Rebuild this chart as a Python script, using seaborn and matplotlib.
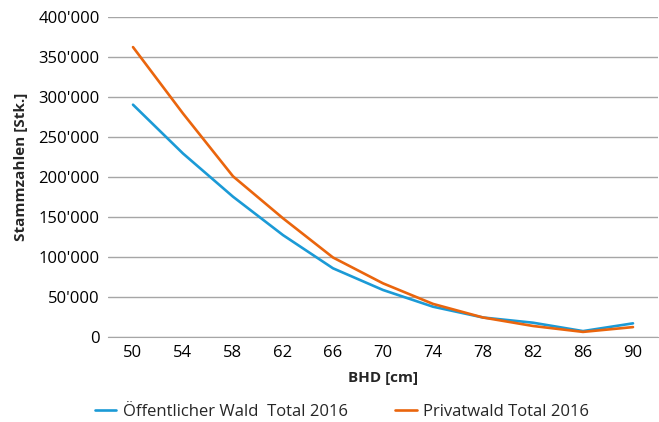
import pandas as pd
import numpy as np
import matplotlib.pyplot as plt
import seaborn as sns
from matplotlib.ticker import FuncFormatter

bhd = [50, 54, 58, 62, 66, 70, 74, 78, 82, 86, 90]
oeffentlich = [290000, 229000, 175000, 127000, 85500, 58400, 37500, 24000, 17500, 7000, 16700]
privat = [362000, 279000, 200500, 148000, 99000, 66700, 41000, 24000, 13400, 6000, 12000]
serien = ['Öffentlicher Wald  Total 2016', 'Privatwald Total 2016']
farben = ['#1b9ad6', '#ea650d']

df = pd.DataFrame({'BHD': bhd * 2,
                   'Stammzahl': oeffentlich + privat,
                   'Serie': [serien[0]] * len(bhd) + [serien[1]] * len(bhd)})

sns.set_style('white')
plt.rcParams['font.family'] = ['Open Sans', 'DejaVu Sans']

fig = plt.figure(figsize=(6.59, 4.22), dpi=100)
ax = fig.add_axes([108 / 659, 85.3 / 422, 550 / 659, 320 / 422])

sns.lineplot(data=df, x='BHD', y='Stammzahl', hue='Serie', palette=farben,
             linewidth=1.9, ax=ax, legend=True)

ax.set_xlim(48, 92)
ax.set_ylim(0, 400000)
ax.set_xticks(bhd)
ax.set_yticks(np.arange(0, 400001, 50000))
ax.yaxis.set_major_formatter(FuncFormatter(lambda v, p: f'{v:,.0f}'.replace(',', "'")))
ax.grid(axis='y', color='#a6a6a6', linewidth=1)
ax.set_axisbelow(True)
for s in ['top', 'right', 'left']:
    ax.spines[s].set_visible(False)
ax.spines['bottom'].set_color('#a6a6a6')
ax.tick_params(axis='both', length=0, labelsize=12, colors='black')
ax.tick_params(axis='x', pad=6)
ax.tick_params(axis='y', pad=6)

ax.set_xlabel('BHD [cm]', fontsize=11, fontweight='bold')
ax.set_ylabel('Stammzahlen [Stk.]', fontsize=11, fontweight='bold')
ax.xaxis.set_label_coords(0.5, -0.108)
ax.yaxis.set_label_coords(-0.146, 0.53)

ax.legend(loc='center', ncol=2, frameon=False, fontsize=12,
          handlelength=1.3, handletextpad=0.4, columnspacing=2.8)
leg = ax.get_legend()
leg.set_bbox_to_anchor((342 / 659, 1 - 411.7 / 422), transform=fig.transFigure)

plt.savefig('out.png', dpi=100)
